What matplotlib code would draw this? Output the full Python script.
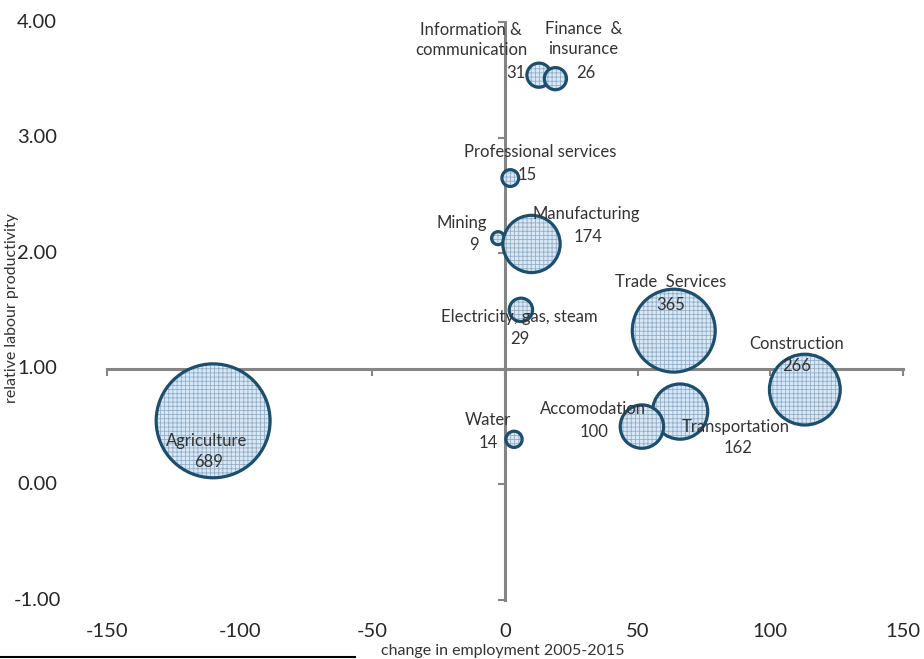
import matplotlib
matplotlib.use("Agg")
import matplotlib.pyplot as plt
import matplotlib.transforms as mtransforms
from matplotlib.lines import Line2D
import numpy as np

plt.rcParams['font.family'] = ['Lato', 'DejaVu Sans']
plt.rcParams['hatch.linewidth'] = 0.6

# ---- data ----
sectors = ["Agriculture", "Mining", "Manufacturing", "Electricity, gas, steam", "Water",
           "Construction", "Trade  Services", "Transportation", "Accomodation",
           "Information &\ncommunication", "Finance  &\ninsurance", "Professional services"]
emp_change = [-110, -2.6, 10, 6, 3.4, 113, 63.6, 66, 51.6, 12.8, 19, 2]
productivity = [0.55, 2.13, 2.08, 1.51, 0.39, 0.82, 1.33, 0.63, 0.50, 3.54, 3.51, 2.65]
bubble_values = [689, 9, 174, 29, 14, 266, 365, 162, 100, 31, 26, 15]

x_ticks = [-150, -100, -50, 0, 50, 100, 150]
y_ticks = [-1.0, 0.0, 1.0, 2.0, 3.0, 4.0]

# label offsets in pixels (name, value) relative to bubble centre
name_off = [(-6, -20), (-36, 15), (55, 30), (-2, -7), (-26, 19),
            (-8, 46), (-3, 49), (56, -15), (-49, 18),
            (-68, 35), (28, 40), (30, 26)]
val_off = [(-5, -41), (-24, -7), (56, 7), (-1, -29), (-26, -4),
           (-8, 24), (-3, 26), (58, -36), (-48, -5),
           (-23, 2), (30, 6), (17, 3)]

W, H = 924, 659
fig = plt.figure(figsize=(W / 100, H / 100), dpi=100)
ax = fig.add_axes([107 / W, 1 - 600 / H, (903 - 107) / W, (600 - 22) / H])
ax.set_xlim(-150, 150)
ax.set_ylim(-1, 4)

axis_grey = "#858585"
ax.spines['left'].set_position(('data', 0))
ax.spines['bottom'].set_position(('data', 1))
ax.spines['right'].set_visible(False)
ax.spines['top'].set_visible(False)
for s in ('left', 'bottom'):
    ax.spines[s].set_color(axis_grey)
    ax.spines[s].set_linewidth(2.2)
ax.set_xticks(x_ticks)
ax.set_yticks(y_ticks)
ax.tick_params(axis='both', direction='out', length=5, width=1.5, color=axis_grey,
               labelbottom=False, labelleft=False)

# tick labels at low positions
trans_x = mtransforms.blended_transform_factory(ax.transData, ax.transAxes)
for v in x_ticks:
    ax.text(v, -0.055, f"{v}", transform=trans_x, ha='center', va='center',
            fontsize=14.5, color="#262626")
trans_y = mtransforms.blended_transform_factory(ax.transAxes, ax.transData)
for v in y_ticks:
    ax.text(-0.088, v, f"{v:.2f}", transform=trans_y, ha='center', va='center',
            fontsize=14.5, color="#262626")

# bubbles
k = 2.17  # px radius per sqrt(value)
sizes = [(2 * k * np.sqrt(v) * 0.72) ** 2 for v in bubble_values]
for i in range(len(sectors)):
    ax.scatter([emp_change[i]], [productivity[i]], s=[sizes[i]], facecolor="#dbe8f4",
               edgecolor="#8fb0cc", hatch='++++', linewidth=0, zorder=3 + i * 0.01)
    ax.scatter([emp_change[i]], [productivity[i]], s=[sizes[i]], facecolor='none',
               edgecolor="#1d4e6b", linewidth=2.3, zorder=3 + i * 0.01 + 0.005)

# labels
for i, name in enumerate(sectors):
    off = mtransforms.offset_copy(ax.transData, fig=fig, x=name_off[i][0] * 0.72,
                                  y=name_off[i][1] * 0.72, units='points')
    ax.text(emp_change[i], productivity[i], name, transform=off, ha='center',
            va='center', fontsize=12, color="#333333", zorder=5, linespacing=1.3)
    off2 = mtransforms.offset_copy(ax.transData, fig=fig, x=val_off[i][0] * 0.72,
                                   y=val_off[i][1] * 0.72, units='points')
    ax.text(emp_change[i], productivity[i], str(bubble_values[i]), transform=off2,
            ha='center', va='center', fontsize=12, color="#333333", zorder=5)

fig.text(12 / W, 1 - 308 / H, "relative labour productivity", rotation=90,
         ha='center', va='center', fontsize=11.5, color="#333333")
fig.text(503 / W, 1 - 651 / H, "change in employment 2005-2015", ha='center',
         va='center', fontsize=11.5, color="#333333")

fig.add_artist(Line2D([0, 355 / W], [1 - 657 / H, 1 - 657 / H], color='black',
                      linewidth=1.5, transform=fig.transFigure))

fig.savefig("out.png", dpi=100)
